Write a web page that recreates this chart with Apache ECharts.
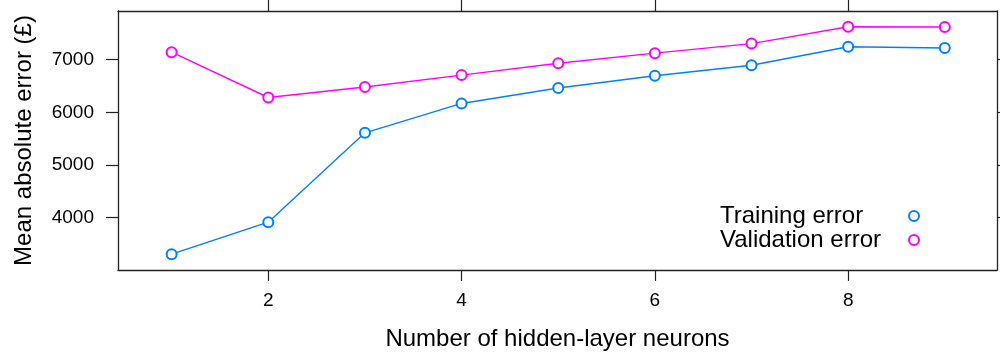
<!DOCTYPE html>
<html><head><meta charset="utf-8">
<script src="https://cdn.jsdelivr.net/npm/echarts@6/dist/echarts.min.js"></script>
<style>html,body{margin:0;padding:0;background:#fff}#c{width:1000px;height:356px}</style>
</head><body><div id="c"></div>
<script>
const neurons = [1, 2, 3, 4, 5, 6, 7, 8, 9];
const trainingError = [3305, 3913, 5611, 6169, 6462, 6695, 6895, 7246, 7222];
const validationError = [7143, 6282, 6481, 6707, 6932, 7124, 7306, 7626, 7620];
const xTicks = [2, 4, 6, 8];
const yTicks = [4000, 5000, 6000, 7000];
const seriesNames = ['Training error', 'Validation error'];
const colors = ['#0080ff', '#ff00ff'];

const FONT = 'Liberation Sans, Arial, sans-serif';
const boxLine = {show: true, lineStyle: {color: '#222', width: 1.3}};
const tick = (len) => ({show: true, inside: false, length: len, lineStyle: {color: '#222', width: 1.2}});

const chart = echarts.init(document.getElementById('c'), null, {renderer: 'canvas'});
chart.setOption({
  backgroundColor: '#fff',
  animation: false,
  textStyle: {fontFamily: FONT},
  grid: {left: 118, right: 3, top: 11, bottom: 83, containLabel: false},
  xAxis: [
    {type: 'value', position: 'bottom', min: 0.445, max: 9.54,
     axisLine: boxLine, splitLine: {show: false},
     axisTick: Object.assign(tick(11), {customValues: xTicks}),
     axisLabel: {customValues: xTicks, margin: 21, color: '#000', fontSize: 19, fontFamily: FONT,
                 formatter: (v) => String(v)},
     name: 'Number of hidden-layer neurons', nameLocation: 'middle', nameGap: 57,
     nameTextStyle: {color: '#000', fontSize: 24, fontFamily: FONT}},
    {type: 'value', position: 'top', min: 0.445, max: 9.54,
     axisLine: boxLine, splitLine: {show: false},
     axisTick: Object.assign(tick(11), {customValues: xTicks}),
     axisLabel: {show: false}}
  ],
  yAxis: [
    {type: 'value', position: 'left', min: 3005, max: 7925,
     axisLine: boxLine, splitLine: {show: false},
     axisTick: Object.assign(tick(12), {customValues: yTicks}),
     axisLabel: {customValues: yTicks, margin: 24, color: '#000', fontSize: 19, fontFamily: FONT,
                 formatter: (v) => String(v)},
     name: 'Mean absolute error (£)', nameLocation: 'middle', nameGap: 82, nameRotate: 90,
     nameTextStyle: {color: '#000', fontSize: 24, fontFamily: FONT}},
    {type: 'value', position: 'right', min: 3005, max: 7925,
     axisLine: boxLine, splitLine: {show: false},
     axisTick: Object.assign(tick(12), {customValues: yTicks}),
     axisLabel: {show: false}}
  ],
  legend: {
    show: true, orient: 'vertical', left: 720, top: 204, align: 'right',
    itemGap: 0, itemWidth: 10, itemHeight: 10, padding: 0,
    formatter: (name) => '{a|' + name + '}',
    textStyle: {color: '#000', fontFamily: FONT,
      rich: {a: {fontSize: 24, fontFamily: FONT, color: '#000', width: 184, align: 'left', lineHeight: 23}}},
    data: seriesNames.map((n) => ({name: n, icon: 'emptyCircle'})),
    selectedMode: false
  },
  series: seriesNames.map((name, i) => ({
    name: name, type: 'line', xAxisIndex: 0, yAxisIndex: 0,
    data: neurons.map((x, j) => [x, (i === 0 ? trainingError : validationError)[j]]),
    symbol: 'emptyCircle', symbolSize: 10, showAllSymbol: true,
    lineStyle: {color: colors[i], width: 1.4},
    itemStyle: {color: colors[i], borderColor: colors[i], borderWidth: 1.4},
    emphasis: {disabled: true}
  }))
});
</script></body></html>
